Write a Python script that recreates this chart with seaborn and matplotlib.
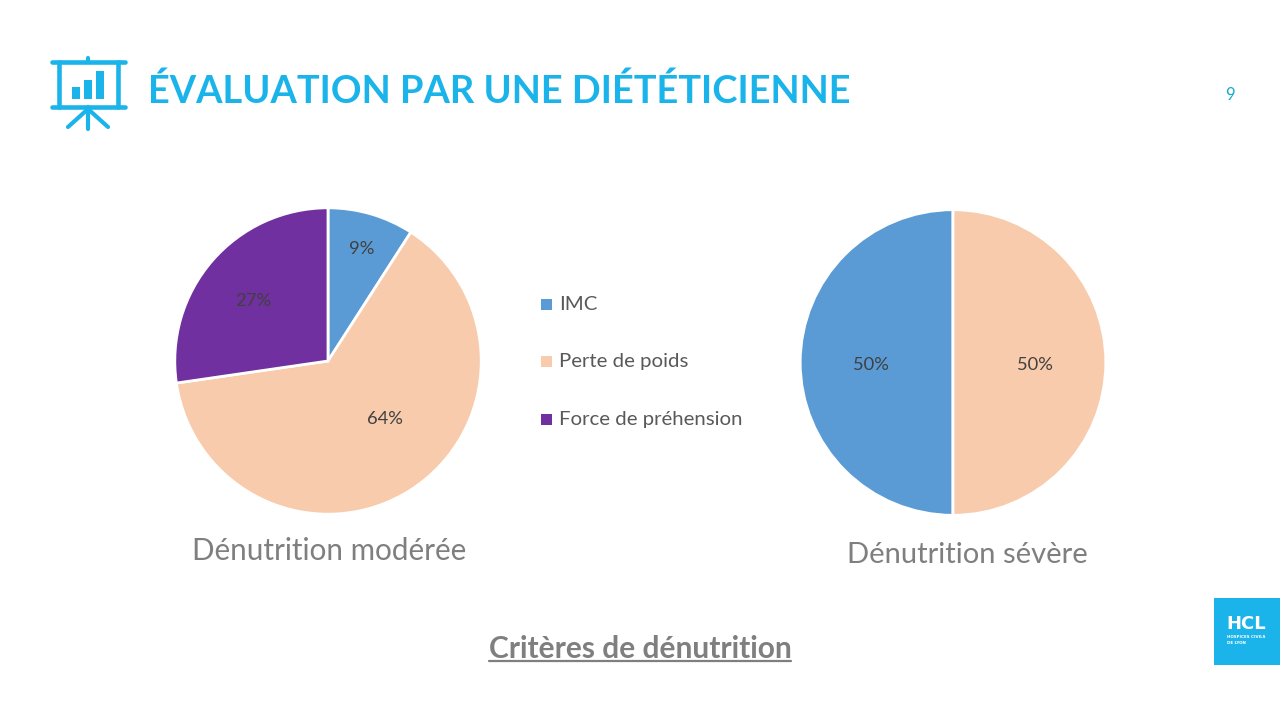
import matplotlib
matplotlib.use("Agg")
import matplotlib.pyplot as plt
from matplotlib.patches import Rectangle
import seaborn as sns

title = "ÉVALUATION PAR UNE DIÉTÉTICIENNE"
page = "9"
footer = "Critères de dénutrition"
categories = ["IMC", "Perte de poids", "Force de préhension"]
moderee_values = [9.1, 63.6, 27.3]
severe_categories = ["IMC", "Perte de poids"]
severe_values = [50, 50]
moderee_name = "Dénutrition modérée"
severe_name = "Dénutrition sévère"
palette = sns.color_palette(["#5B9BD5", "#F7CBAC", "#7030A0"])
CYAN = "#1BB4EA"
GREY = "#7F7F7F"
LABEL = "#404040"

sns.set_theme(style="white")
plt.rcParams["font.family"] = ["Lato", "DejaVu Sans"]

fig = plt.figure(figsize=(12.8, 7.2), dpi=100, facecolor="white")

def pie_axes(cx, cy, r):
    return fig.add_axes([(cx - r) / 1280, 1 - (cy + r) / 720, 2 * r / 1280, 2 * r / 720])

wedge = dict(edgecolor="white", linewidth=2)
a1 = pie_axes(328, 361, 153.2)
a1.pie(moderee_values, colors=palette[:3], startangle=90, counterclock=False,
       radius=1, wedgeprops=wedge)
a1.set(xlim=(-1, 1), ylim=(-1, 1))
a2 = pie_axes(953, 362.5, 152.8)
a2.pie(severe_values, colors=palette[:2], startangle=270, counterclock=False,
       radius=1, wedgeprops=wedge)
a2.set(xlim=(-1, 1), ylim=(-1, 1))
for a in (a1, a2):
    for w in a.patches:
        w.set_clip_on(False)

ov = fig.add_axes([0, 0, 1, 1], facecolor="none")
ov.set(xlim=(0, 1280), ylim=(720, 0))
ov.axis("off")

# percent labels
pct1 = [(362, 249), (385, 419), (253, 301)]
for v, (x, y) in zip(moderee_values, pct1):
    ov.text(x, y, f"{v:.0f}%", ha="center", va="center", fontsize=13.2, color=LABEL)
pct2 = [(871, 365), (1035, 365)]
for v, (x, y) in zip(severe_values, pct2):
    ov.text(x, y, f"{v}%", ha="center", va="center", fontsize=13.2, color=LABEL)

# legend
for name, col, y in zip(categories, palette, [304, 361, 419]):
    ov.add_patch(Rectangle((541, y - 5), 11, 11, color=col, lw=0))
    ov.text(559, y + 1, name, ha="left", va="center", fontsize=14.7, color="#595959")

ov.text(329, 551, moderee_name, ha="center", va="center", fontsize=21.3, color=GREY)
ov.text(967, 555, severe_name, ha="center", va="center", fontsize=21, color=GREY)

ov.text(640, 649, footer, ha="center", va="center", fontsize=21.5,
        fontweight="bold", color=GREY)
ov.plot([489, 791], [661, 661], color=GREY, lw=1.6)

ov.text(148, 91, title, ha="left", va="center", fontsize=27.4,
        fontweight="bold", color=CYAN)
ov.text(1230, 95, page, ha="center", va="center", fontsize=12, color="#1BA9C9")

# presentation icon
def seg(xs, ys, w=3.3):
    ov.plot(xs, ys, color=CYAN, lw=w, solid_capstyle="round")
seg([52, 125], [62, 62])
seg([52, 125], [107, 107])
seg([59, 59], [62, 107])
seg([118, 118], [62, 107])
seg([88, 88], [58, 62], 3.0)
seg([88, 88], [107, 129], 3.0)
seg([88, 68], [109, 127], 3.0)
seg([88, 108], [109, 127], 3.0)
for x, top, w in [(72, 87, 8), (84, 80, 8), (96, 71, 8)]:
    ov.add_patch(Rectangle((x, top), w, 99 - top, color=CYAN, lw=0))

# HCL logo
ov.add_patch(Rectangle((1214, 598), 66, 67, color=CYAN, lw=0))
ov.text(1226, 624, "HCL", ha="left", va="center", fontsize=13,
        fontweight="bold", family="DejaVu Sans", color="white")
ov.text(1227, 637, "HOSPICES CIVILS", ha="left", va="center", fontsize=2.9,
        fontweight="bold", family="DejaVu Sans", color="white")
ov.text(1227, 643, "DE LYON", ha="left", va="center", fontsize=2.9,
        fontweight="bold", family="DejaVu Sans", color="white")

fig.savefig("out.png", dpi=100)
